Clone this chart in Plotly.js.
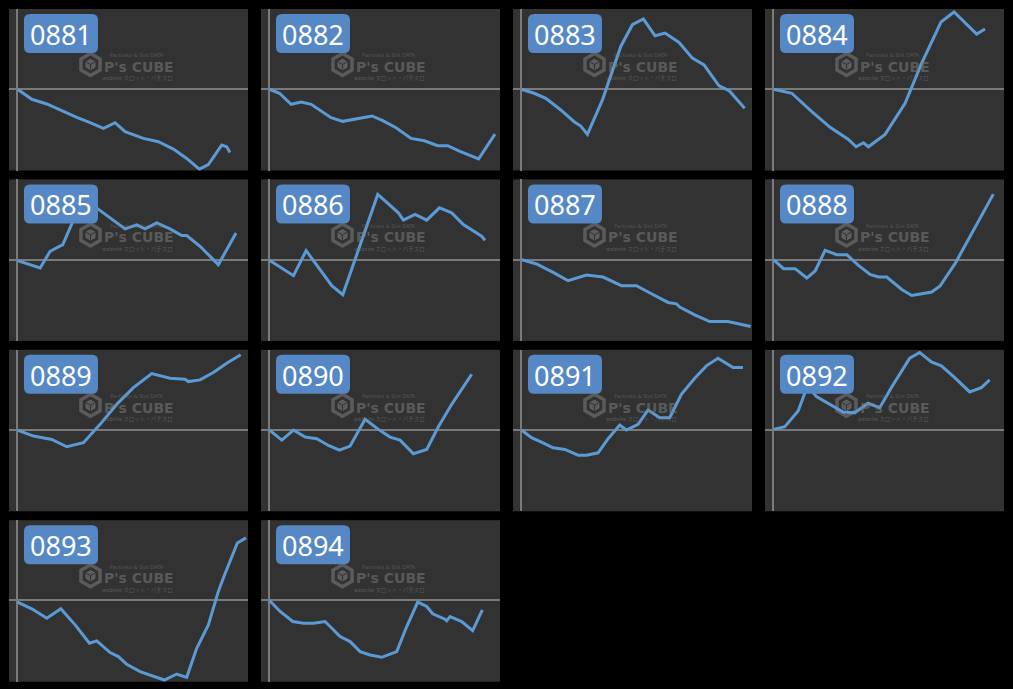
<!DOCTYPE html>
<html>
<head>
<meta charset="utf-8">
<script src="https://cdn.plot.ly/plotly-3.0.1.min.js"></script>
<style>html,body{margin:0;padding:0;background:#000;}#chart{width:1013px;height:689px;}</style>
</head>
<body>
<div id="chart"></div>
<script>
// ---- data (x = game progress, y = difference) ----
const labels = ['0881','0882','0883','0884','0885','0886','0887','0888','0889','0890','0891','0892','0893','0894'];

const x0881 = [0,43,88,128,178,218,258,293,323,378,423,468,508,546,573,613,628,638];
const y0881 = [0,-30,-44,-62,-84,-100,-117,-100,-127,-147,-157,-179,-207,-239,-225,-167,-172,-189];

const x0882 = [0,30,65,95,125,185,220,260,308,340,380,425,465,505,535,570,628,655,677];
const y0882 = [0,-12,-45,-38,-45,-85,-96,-88,-80,-94,-115,-147,-154,-169,-169,-185,-208,-167,-134];

const x0883 = [0,38,73,118,158,178,198,243,298,333,366,401,431,473,513,548,593,623,670];
const y0883 = [0,-12,-27,-62,-97,-110,-135,-32,128,193,210,160,168,140,93,73,10,-4,-57];

const x0884 = [0,55,115,170,225,248,270,285,335,395,445,503,542,610,635];
const y0884 = [0,-12,-67,-114,-150,-172,-160,-172,-135,-42,78,201,231,165,180];

const x0885 = [0,33,68,98,136,173,198,233,278,323,358,383,418,458,493,508,548,603,656];
const y0885 = [-3,-13,-25,25,45,130,162,158,125,92,104,92,110,92,72,72,40,-15,80];

const x0886 = [0,72,110,147,187,220,267,325,387,402,437,472,510,547,582,612,637,647];
const y0886 = [-2,-48,27,-25,-78,-105,30,195,140,118,135,118,155,140,105,85,70,58];

const x0887 = [0,45,95,140,195,245,300,345,390,440,465,475,520,565,620,660,688];
const y0887 = [0,-13,-38,-63,-46,-52,-78,-78,-102,-128,-132,-142,-165,-185,-185,-193,-200];

const x0888 = [0,30,65,100,125,155,190,220,255,290,315,340,385,415,445,475,500,545,595,660];
const y0888 = [0,-27,-27,-55,-34,28,15,15,-17,-44,-52,-52,-89,-107,-102,-97,-79,-12,78,196];

const x0889 = [0,48,103,148,198,248,298,348,403,458,503,513,548,588,628,670];
const y0889 = [0,-18,-28,-50,-38,17,77,127,169,155,152,145,150,172,200,225];

const x0890 = [0,37,72,107,142,177,210,242,287,327,362,392,432,472,507,547,607];
const y0890 = [0,-30,0,-21,-26,-46,-60,-48,32,2,-21,-30,-71,-58,10,77,167];

const x0891 = [0,30,60,95,130,170,195,230,260,295,315,350,380,415,445,480,520,555,590,635,665];
const y0891 = [0,-23,-36,-53,-58,-75,-75,-68,-26,15,0,17,60,37,37,107,155,192,215,187,187];

const x0892 = [0,34,74,102,129,169,209,244,284,319,354,409,439,474,504,544,589,624,649];
const y0892 = [2,10,57,132,100,77,54,52,80,67,127,215,232,204,192,157,114,127,150];

const x0893 = [0,43,88,130,173,216,238,278,303,328,368,408,441,478,508,538,573,603,618,660,686];
const y0893 = [-5,-25,-53,-25,-73,-128,-121,-156,-168,-191,-213,-228,-238,-220,-230,-143,-73,27,67,172,187];

const x0894 = [0,32,70,102,132,167,212,242,272,302,337,382,412,445,472,490,527,532,542,577,610,639];
const y0894 = [0,-33,-63,-68,-68,-63,-108,-123,-153,-163,-170,-153,-78,-5,-18,-40,-56,-61,-48,-63,-90,-28];

const xs = [x0881,x0882,x0883,x0884,x0885,x0886,x0887,x0888,x0889,x0890,x0891,x0892,x0893,x0894];
const ys = [y0881,y0882,y0883,y0884,y0885,y0886,y0887,y0888,y0889,y0890,y0891,y0892,y0893,y0894];

// ---- layout helpers ----
const W = 1013, H = 689;
const PX = p => p / W;
const PY = p => 1 - p / H;
const panelW = 239, panelH = 161.5;
function origin(i) {
  const col = i % 4, row = Math.floor(i / 4);
  return [9 + col * 252, 9 + row * 170.4];
}
function roundRect(x0, y0, x1, y1, r) {
  const f = (x, y) => PX(x).toFixed(5) + ',' + PY(y).toFixed(5);
  return 'M' + f(x0 + r, y0) + ' L' + f(x1 - r, y0) + ' Q' + f(x1, y0) + ' ' + f(x1, y0 + r) +
    ' L' + f(x1, y1 - r) + ' Q' + f(x1, y1) + ' ' + f(x1 - r, y1) +
    ' L' + f(x0 + r, y1) + ' Q' + f(x0, y1) + ' ' + f(x0, y1 - r) +
    ' L' + f(x0, y0 + r) + ' Q' + f(x0, y0) + ' ' + f(x0 + r, y0) + ' Z';
}
function hexPath(cx, cy, r) {
  let s = '';
  for (let k = 0; k < 6; k++) {
    const a = (-90 + 60 * k) * Math.PI / 180;
    const x = cx + r * Math.cos(a), y = cy + r * Math.sin(a);
    s += (k === 0 ? 'M' : ' L') + PX(x).toFixed(5) + ',' + PY(y).toFixed(5);
  }
  return s + ' Z';
}
function cubeLines(cx, cy, r) {
  const pts = [];
  for (let k = 0; k < 6; k++) {
    const a = (-90 + 60 * k) * Math.PI / 180;
    pts.push([cx + r * Math.cos(a), cy + r * Math.sin(a)]);
  }
  const f = p => PX(p[0]).toFixed(5) + ',' + PY(p[1]).toFixed(5);
  const c = [cx, cy];
  return 'M' + f(c) + ' L' + f(pts[1]) + ' M' + f(c) + ' L' + f(pts[3]) + ' M' + f(c) + ' L' + f(pts[5]);
}

const traces = [];
const layout = {
  width: W, height: H,
  margin: {l: 0, r: 0, t: 0, b: 0},
  paper_bgcolor: '#000000',
  plot_bgcolor: '#323232',
  showlegend: false,
  shapes: [],
  annotations: []
};

const wmColor = 'rgba(125,125,125,0.55)';

for (let i = 0; i < labels.length; i++) {
  const n = i === 0 ? '' : String(i + 1);
  const [ox, oy] = origin(i);
  traces.push({
    type: 'scatter', mode: 'lines',
    x: xs[i], y: ys[i],
    xaxis: 'x' + n, yaxis: 'y' + n,
    line: {color: '#5b9bd5', width: 3},
    hoverinfo: 'skip'
  });
  const axCommon = {
    showgrid: false, showticklabels: false, ticks: '', showline: false,
    zeroline: true, zerolinecolor: '#7a7a7a', zerolinewidth: 2, fixedrange: true
  };
  layout['xaxis' + n] = Object.assign({}, axCommon, {
    domain: [PX(ox), PX(ox + panelW)],
    range: [-25.5, 692],
    anchor: 'y' + n
  });
  layout['yaxis' + n] = Object.assign({}, axCommon, {
    domain: [PY(oy + panelH), PY(oy)],
    range: [-243, 240],
    anchor: 'x' + n
  });

  // watermark icon
  const cx = ox + 81.5, cy = oy + 55.5;
  layout.shapes.push({type: 'path', xref: 'paper', yref: 'paper', layer: 'below',
    path: hexPath(cx, cy, 11), line: {color: wmColor, width: 3.5}});
  layout.shapes.push({type: 'path', xref: 'paper', yref: 'paper', layer: 'below',
    path: hexPath(cx, cy, 5.2), fillcolor: wmColor, line: {color: wmColor, width: 1}});
  layout.shapes.push({type: 'path', xref: 'paper', yref: 'paper', layer: 'below',
    path: cubeLines(cx, cy, 5.2), line: {color: '#323232', width: 1}});

  layout.annotations.push({xref: 'paper', yref: 'paper', x: PX(ox + 93), y: PY(oy + 58),
    xanchor: 'left', yanchor: 'middle', showarrow: false, text: "P's CUBE",
    font: {family: 'DejaVu Sans', size: 14, color: wmColor, weight: 'bold'}});
  layout.annotations.push({xref: 'paper', yref: 'paper', x: PX(ox + 99), y: PY(oy + 46.5),
    xanchor: 'left', yanchor: 'middle', showarrow: false, text: 'Pachinko &amp; Slot DATA',
    font: {family: 'DejaVu Sans', size: 5, color: wmColor}});
  layout.annotations.push({xref: 'paper', yref: 'paper', x: PX(ox + 166), y: PY(oy + 69.5),
    xanchor: 'right', yanchor: 'middle', showarrow: false, text: 'website スロット・パチスロ',
    font: {family: 'Noto Sans CJK JP', size: 5.5, color: wmColor}});

  // label box
  layout.shapes.push({type: 'path', xref: 'paper', yref: 'paper', layer: 'above',
    path: roundRect(ox + 15, oy + 5, ox + 89, oy + 44, 6),
    fillcolor: '#5588c4', line: {width: 0}});
  layout.annotations.push({xref: 'paper', yref: 'paper', x: PX(ox + 52), y: PY(oy + 25.5),
    xanchor: 'center', yanchor: 'middle', showarrow: false, text: labels[i],
    font: {family: 'Noto Sans', size: 27, color: '#ffffff'}});
}

Plotly.newPlot('chart', traces, layout, {displayModeBar: false, staticPlot: true});
</script>
</body>
</html>
